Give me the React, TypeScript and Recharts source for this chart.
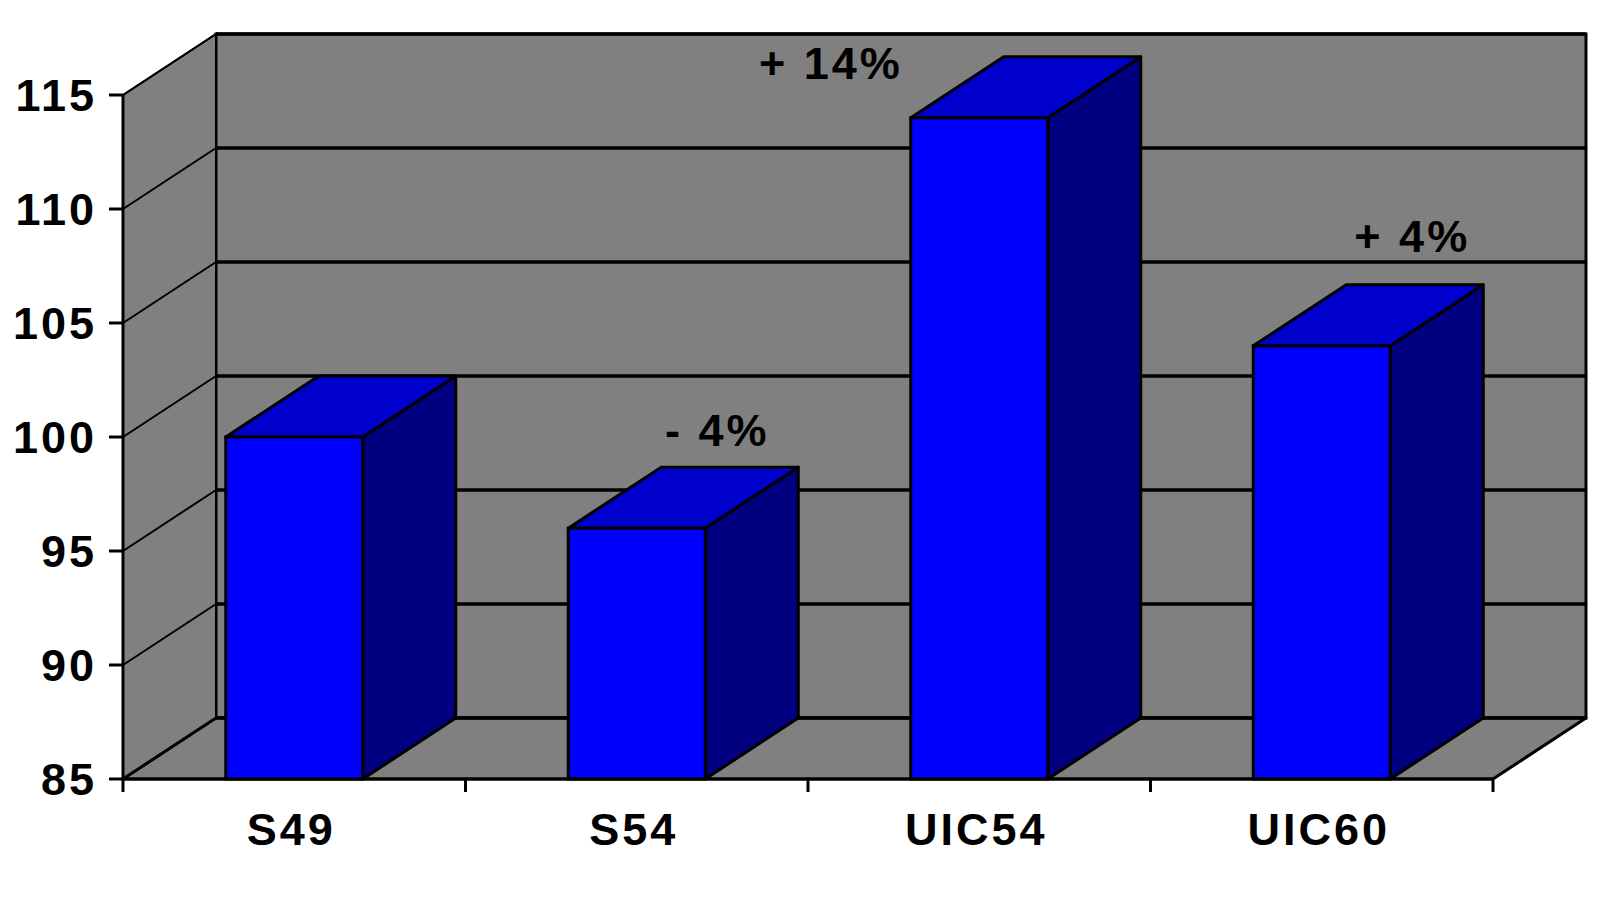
import { BarChart, Bar, XAxis, YAxis, CartesianGrid } from "recharts";

/* ---------- DATA ---------- */
const categories = ["S49", "S54", "UIC54", "UIC60"];
const values = [100, 96, 114, 104];
const changeLabels = ["", "- 4%", "+ 14%", "+ 4%"];
const yTicks = [85, 90, 95, 100, 105, 110, 115];

const data = categories.map((name, i) => ({
  name,
  value: values[i],
  change: changeLabels[i],
}));

/* ---------- LAYOUT ---------- */
const W = 1600;
const H = 899;
const MARGIN = { top: 95, right: 107, bottom: 0, left: 0 };
const Y_AXIS_W = 123;
const X_AXIS_H = 120;
const BAND_HALF = (W - MARGIN.left - MARGIN.right - Y_AXIS_W) / categories.length / 2;

// 3d depth offset of walls and boxes
const DX = 93;
const DY = 61;

const FONT = '"Liberation Sans", Arial, sans-serif';
const FS = 45;
const LS = 3;

// annotation placement, relative to the back-top centre of each box
const LABEL_POS: Record<string, { dx: number; dy: number; left?: boolean }> = {
  S54: { dx: -14, dy: -37 },
  UIC54: { dx: -11, dy: 6, left: true },
  UIC60: { dx: -4, dy: -49 },
};

const COLORS = {
  wall: "#808080",
  front: "#0000FF",
  top: "#0000CC",
  side: "#000080",
  line: "#000000",
};

/* ---------- GRID / WALLS ---------- */
function GridLine(props: any) {
  const { x1, x2, y1, index } = props;
  let walls = null;
  if (index === 0) {
    const pts: number[] = props.horizontalPoints || [y1];
    const left = typeof props.x === "number" ? props.x : x1;
    const w = typeof props.width === "number" ? props.width : x2 - x1;
    const top = typeof props.y === "number" ? props.y : Math.min(...pts);
    const h = typeof props.height === "number" ? props.height : Math.max(...pts) - top;
    const bot = top + h;
    walls = (
      <g>
        <rect x={left + DX} y={top - DY} width={w} height={h} fill={COLORS.wall} stroke={COLORS.line} strokeWidth={3} />
        <polygon
          points={`${left},${top} ${left + DX},${top - DY} ${left + DX},${bot - DY} ${left},${bot}`}
          fill={COLORS.wall}
          stroke={COLORS.line}
          strokeWidth={2}
        />
        <polygon
          points={`${left},${bot} ${left + DX},${bot - DY} ${left + w + DX},${bot - DY} ${left + w},${bot}`}
          fill={COLORS.wall}
          stroke={COLORS.line}
          strokeWidth={3}
          strokeLinejoin="round"
        />
      </g>
    );
  }
  return (
    <g key={`grid-${index}`}>
      {walls}
      <line x1={x1} y1={y1} x2={x1 + DX} y2={y1 - DY} stroke={COLORS.line} strokeWidth={2} />
      <line x1={x1 + DX} y1={y1 - DY} x2={x2 + DX} y2={y1 - DY} stroke={COLORS.line} strokeWidth={3.5} />
    </g>
  );
}

/* ---------- BARS ---------- */
function Box3D(props: any) {
  const { x, y, width: w, height: h, payload } = props;
  const b = y + h;
  const side = `${x + w},${y} ${x + w + DX},${y - DY} ${x + w + DX},${b - DY} ${x + w},${b}`;
  const top = `${x},${y} ${x + DX},${y - DY} ${x + w + DX},${y - DY} ${x + w},${y}`;
  const label = payload?.change;

  let text = null;
  if (label) {
    const pos = LABEL_POS[payload.name] || { dx: -8, dy: -42 };
    let cx = x + w / 2 + DX + pos.dx + LS / 2;
    let cy = y - DY + pos.dy;
    let anchor = "middle";
    if (pos.left) {
      // no room above the box: put it to the left of the front face
      cx = x + pos.dx + LS;
      anchor = "end";
    }
    text = (
      <text
        x={cx}
        y={cy}
        dy="0.355em"
        textAnchor={anchor}
        fontFamily={FONT}
        fontSize={FS}
        fontWeight="bold"
        letterSpacing={LS}
        fill="#000"
      >
        {label}
      </text>
    );
  }

  return (
    <g>
      <polygon points={side} fill={COLORS.side} stroke={COLORS.line} strokeWidth={3} strokeLinejoin="round" />
      <polygon points={top} fill={COLORS.top} stroke={COLORS.line} strokeWidth={3} strokeLinejoin="round" />
      <rect x={x} y={y} width={w} height={h} fill={COLORS.front} stroke={COLORS.line} strokeWidth={3} />
      {text}
    </g>
  );
}

/* ---------- TICKS ---------- */
function XTick(props: any) {
  const { x, y, payload, index } = props;
  const last = index === categories.length - 1;
  return (
    <g>
      <line x1={x - BAND_HALF} y1={y} x2={x - BAND_HALF} y2={y + 13} stroke={COLORS.line} strokeWidth={3} />
      {last && (
        <line x1={x + BAND_HALF} y1={y} x2={x + BAND_HALF} y2={y + 13} stroke={COLORS.line} strokeWidth={3} />
      )}
      <text
        x={x - 3}
        y={y + 66}
        textAnchor="middle"
        fontFamily={FONT}
        fontSize={FS}
        fontWeight="bold"
        letterSpacing={LS}
        fill="#000"
      >
        {payload.value}
      </text>
    </g>
  );
}

function YTick(props: any) {
  const { x, y, payload } = props;
  return (
    <text
      x={x}
      y={y}
      dy="0.355em"
      textAnchor="end"
      fontFamily={FONT}
      fontSize={FS}
      fontWeight="bold"
      letterSpacing={LS}
      fill="#000"
    >
      {payload.value}
    </text>
  );
}

/* ---------- COMPONENT ---------- */
export default function App() {
  return (
    <div style={{ position: "absolute", left: 0, top: 0, width: W, height: H, background: "#fff" }}>
      <BarChart width={W} height={H} data={data} margin={MARGIN} barCategoryGap="30%">
        <CartesianGrid vertical={false} horizontal={GridLine} />
        <XAxis
          dataKey="name"
          height={X_AXIS_H}
          interval={0}
          tickLine={false}
          tickSize={0}
          tickMargin={0}
          axisLine={{ stroke: COLORS.line, strokeWidth: 3 }}
          tick={<XTick />}
        />
        <YAxis
          width={Y_AXIS_W}
          domain={[85, 115]}
          ticks={yTicks}
          interval={0}
          tickSize={14}
          tickMargin={12}
          tickLine={{ stroke: COLORS.line, strokeWidth: 3 }}
          axisLine={{ stroke: COLORS.line, strokeWidth: 3 }}
          tick={<YTick />}
        />
        <Bar dataKey="value" shape={<Box3D />} isAnimationActive={false} />
      </BarChart>
    </div>
  );
}
